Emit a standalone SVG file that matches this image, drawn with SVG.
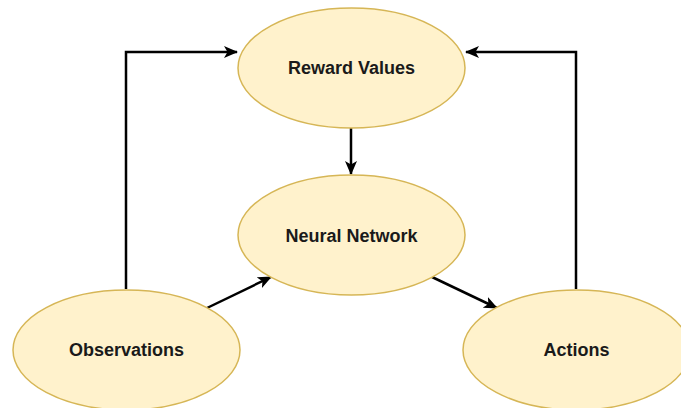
<svg xmlns="http://www.w3.org/2000/svg" width="681" height="408" viewBox="0 0 681 408">
<style>
.node ellipse{fill:#fff2cc;stroke:#d6b656;stroke-width:1.5}
.node text{font-family:"Liberation Sans",Arial,sans-serif;font-weight:bold;font-size:18px;fill:#1a1a1a;text-anchor:middle;dominant-baseline:central}
.edges path{fill:none;stroke:#000;stroke-width:2.5}
</style>
<defs>
<marker id="arr" viewBox="0 0 14 12" refX="13" refY="6" markerWidth="14" markerHeight="12" markerUnits="userSpaceOnUse" orient="auto">
<path d="M0,0 L14,6 L0,12 L3.5,6 Z" fill="#000"/>
</marker>
</defs>
<rect width="681" height="408" fill="#fff"/>
<g class="edges">
<path d="M126,289 V52 H237" marker-end="url(#arr)"/>
<path d="M576,289 V52 H466" marker-end="url(#arr)"/>
<path d="M351,128 V174" marker-end="url(#arr)"/>
<path d="M207,308 L271,277" marker-end="url(#arr)"/>
<path d="M432,277 L497,308" marker-end="url(#arr)"/>
</g>
<g id="reward" class="node"><ellipse cx="351.5" cy="68" rx="113.5" ry="60"/><text x="351.5" y="68">Reward Values</text></g>
<g id="neural" class="node"><ellipse cx="351.5" cy="235" rx="113.5" ry="60"/><text x="351.5" y="236">Neural Network</text></g>
<g id="obs" class="node"><ellipse cx="126.5" cy="350" rx="113.5" ry="60"/><text x="126.5" y="350">Observations</text></g>
<g id="actions" class="node"><ellipse cx="576.5" cy="350" rx="113.5" ry="60"/><text x="576.5" y="350">Actions</text></g>
</svg>
